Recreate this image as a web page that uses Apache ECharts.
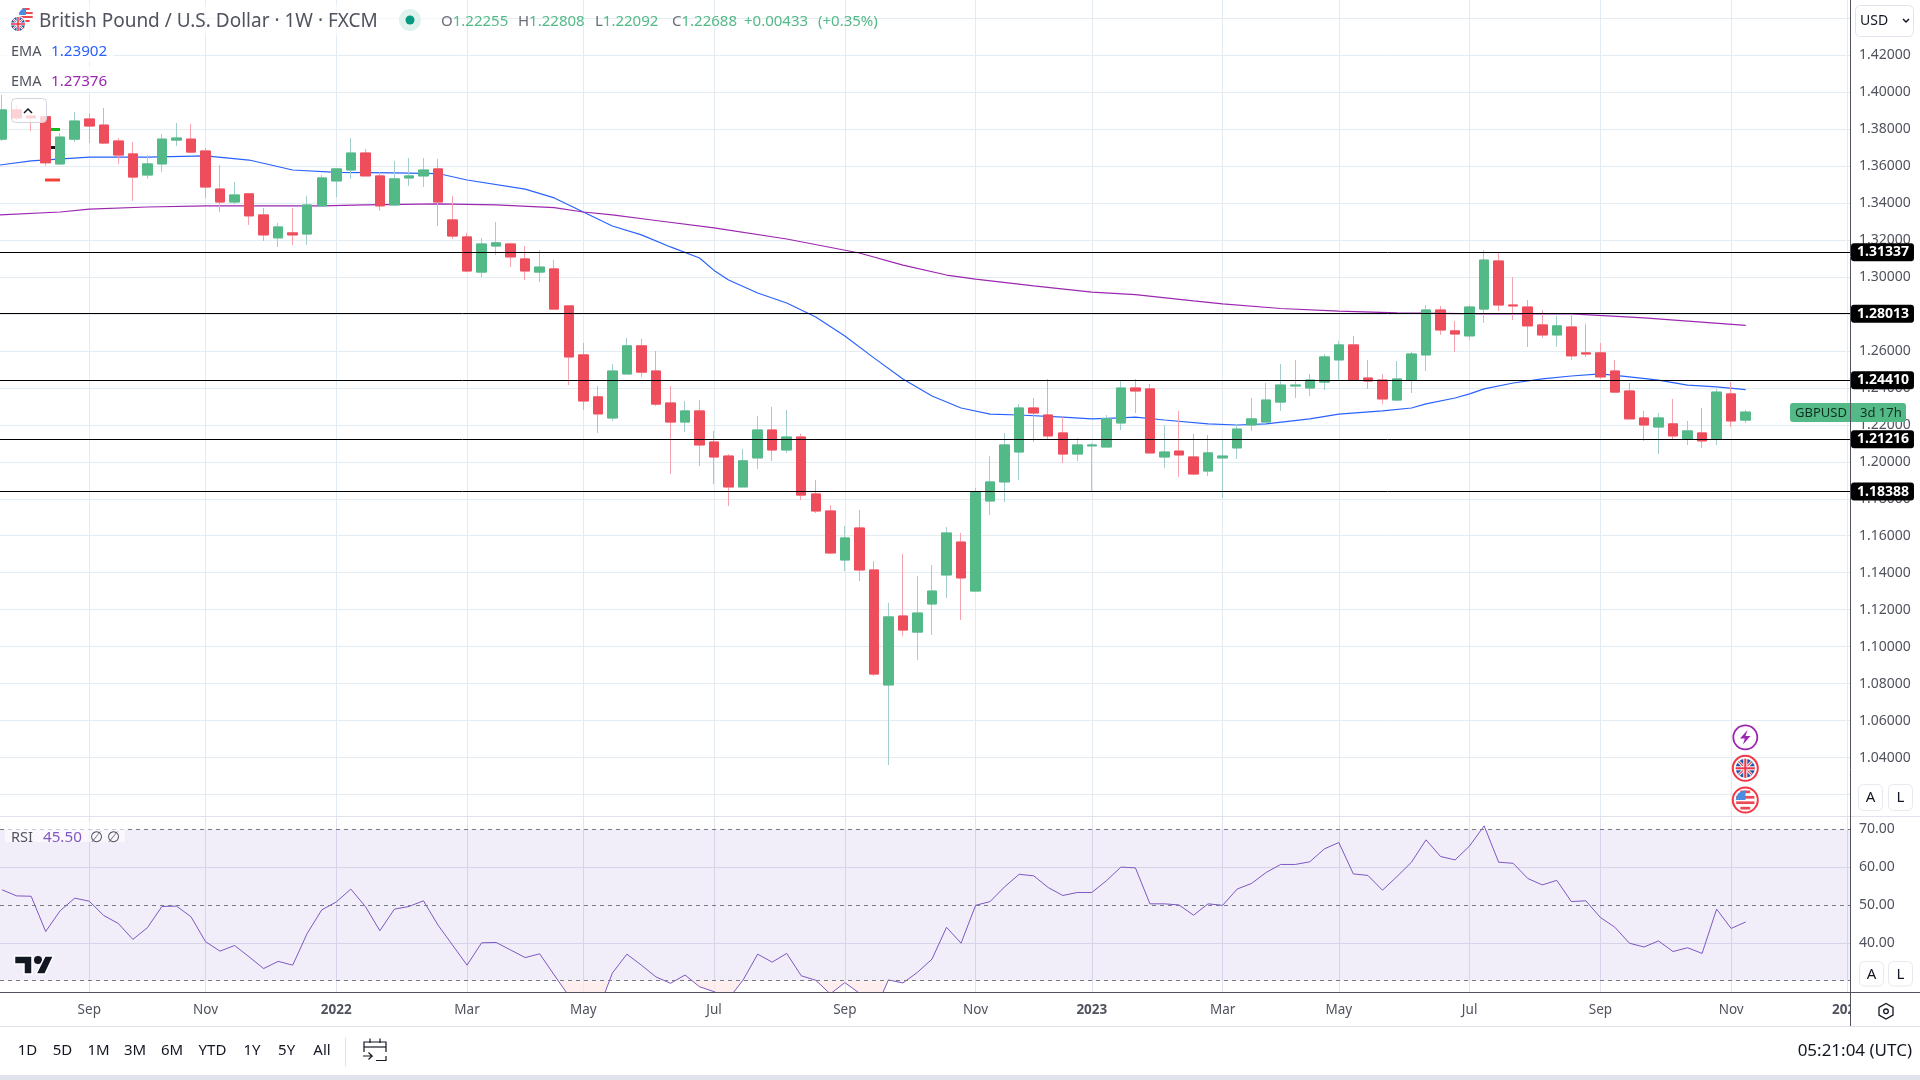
<!DOCTYPE html>
<html>
<head>
<meta charset="utf-8">
<title>GBPUSD weekly</title>
<style>html,body{margin:0;padding:0;background:#fff}#c{width:1920px;height:1080px}</style>
<script src="https://cdn.jsdelivr.net/npm/echarts@6/dist/echarts.min.js"></script>
</head>
<body>
<div id="c"></div>
<script>
const opens = [1.3745,1.3903,1.3870,1.3866,1.3611,1.3745,1.3854,1.3821,1.3735,1.3665,
1.3551,1.3611,1.3740,1.3745,1.3681,1.3475,1.3405,1.3449,1.3335,1.3211,
1.3238,1.3232,1.3384,1.3519,1.3578,1.3670,1.3546,1.3389,1.3535,1.3546,
1.3584,1.3308,1.3216,1.3026,1.3167,1.3178,1.3097,1.3026,1.3043,1.2843,
1.2578,1.2351,1.2237,1.2475,1.2627,1.2491,1.2318,1.2215,1.2275,1.2107,
1.2031,1.1864,1.2021,1.2172,1.2064,1.2134,1.1826,1.1734,1.1469,1.1642,
1.1415,1.0793,1.1166,1.1079,1.1231,1.1388,1.1566,1.1301,1.1788,1.1891,
1.2053,1.2291,1.2253,1.2156,1.2042,1.2086,1.2080,1.2210,1.2399,1.2394,
1.2026,1.2058,1.2026,1.1950,1.2021,1.2075,1.2199,1.2215,1.2323,1.2410,
1.2399,1.2431,1.2551,1.2632,1.2453,1.2442,1.2334,1.2442,1.2578,1.2821,
1.2708,1.2681,1.2826,1.3086,1.2848,1.2837,1.2740,1.2686,1.2729,1.2589,
1.2589,1.2491,1.2383,1.2237,1.2188,1.2205,1.2123,1.2156,1.2123,1.2367,
1.22255];
const closes = [1.3903,1.3860,1.3860,1.3617,1.3756,1.3843,1.3816,1.3724,1.3659,1.3540,
1.3611,1.3745,1.3751,1.3675,1.3486,1.3405,1.3443,1.3330,1.3227,1.3270,
1.3227,1.3389,1.3535,1.3584,1.3670,1.3546,1.3384,1.3530,1.3546,1.3578,
1.3405,1.3221,1.3032,1.3178,1.3184,1.3108,1.3032,1.3053,1.2826,1.2567,
1.2329,1.2259,1.2491,1.2627,1.2485,1.2312,1.2215,1.2275,1.2091,1.2026,
1.1864,1.2005,1.2172,1.2064,1.2134,1.1820,1.1734,1.1507,1.1588,1.1415,
1.0852,1.1161,1.1090,1.1182,1.1301,1.1615,1.1372,1.1836,1.1891,1.2091,
1.2291,1.2264,1.2140,1.2042,1.2091,1.2091,1.2232,1.2399,1.2383,1.2048,
1.2053,1.2037,1.1934,1.2048,1.2031,1.2177,1.2232,1.2334,1.2415,1.2415,
1.2442,1.2567,1.2632,1.2442,1.2437,1.2340,1.2448,1.2583,1.2821,1.2713,
1.2691,1.2837,1.3091,1.2848,1.2843,1.2735,1.2686,1.2735,1.2573,1.2583,
1.2459,1.2377,1.2232,1.2199,1.2237,1.2140,1.2167,1.2113,1.2377,1.2221,
1.22688];
const highs = [1.3984,1.3930,1.3886,1.3870,1.3778,1.3892,1.3886,1.3913,1.3751,1.3729,
1.3659,1.3772,1.3832,1.3827,1.3697,1.3605,1.3513,1.3449,1.3373,1.3292,
1.3373,1.3438,1.3551,1.3584,1.3751,1.3692,1.3567,1.3627,1.3643,1.3643,
1.3638,1.3438,1.3238,1.3211,1.3297,1.3184,1.3167,1.3145,1.3091,1.2843,
1.2643,1.2410,1.2529,1.2670,1.2665,1.2600,1.2410,1.2329,1.2334,1.2167,
1.2042,1.2069,1.2248,1.2297,1.2280,1.2151,1.1902,1.1766,1.1653,1.1739,
1.1463,1.1237,1.1501,1.1382,1.1442,1.1647,1.1615,1.1858,1.2031,1.2156,
1.2313,1.2345,1.2448,1.2242,1.2129,1.2102,1.2253,1.2437,1.2448,1.2421,
1.2199,1.2275,1.2151,1.2145,1.2118,1.2205,1.2345,1.2426,1.2529,1.2551,
1.2475,1.2583,1.2654,1.2681,1.2551,1.2475,1.2545,1.2594,1.2848,1.2843,
1.2762,1.2848,1.3145,1.3129,1.2999,1.2875,1.2821,1.2789,1.2800,1.2746,
1.2643,1.2551,1.2426,1.2275,1.2264,1.2340,1.2221,1.2291,1.2394,1.2432,
1.22808];
const lows = [1.3735,1.3849,1.3789,1.3601,1.3605,1.3729,1.3724,1.3719,1.3611,1.3411,
1.3530,1.3567,1.3708,1.3670,1.3427,1.3351,1.3394,1.3281,1.3194,1.3162,
1.3173,1.3173,1.3384,1.3432,1.3530,1.3546,1.3357,1.3384,1.3492,1.3486,
1.3275,1.3205,1.3026,1.2999,1.3118,1.3053,1.2983,1.2972,1.2826,1.2415,
1.2280,1.2156,1.2221,1.2475,1.2458,1.2302,1.1934,1.2161,1.1977,1.1880,
1.1761,1.1864,1.1961,1.2005,1.2048,1.1793,1.1723,1.1501,1.1409,1.1355,
1.0841,1.0360,1.1057,1.0928,1.1063,1.1264,1.1144,1.1296,1.1712,1.1782,
1.1902,1.2107,1.2123,1.1993,1.2004,1.1842,1.2080,1.2172,1.2264,1.2048,
1.1966,1.1918,1.1929,1.1923,1.1804,1.2015,1.2167,1.2215,1.2275,1.2345,
1.2356,1.2388,1.2437,1.2442,1.2394,1.2312,1.2329,1.2372,1.2491,1.2686,
1.2594,1.2659,1.2751,1.2815,1.2767,1.2621,1.2670,1.2621,1.2551,1.2567,
1.2448,1.2377,1.2232,1.2113,1.2042,1.2123,1.2091,1.2075,1.2091,1.2188,
1.22092];
const ema1Bars = [-0.15,2,6,10,14,17,20,23,27,30,32,36,38,40,42,44,46,48,49,50,52,54,56,58,60,62,64,66,68,70,73,75,77,78,80,83,85,87,90,92,95,97,98,100,101,102,104,106,108,110,112,114,116,118,120];
const ema1Values = [1.3605,1.3627,1.3648,1.3648,1.3654,1.3632,1.3578,1.3565,1.3562,1.3559,1.3524,1.3475,1.3427,1.3351,1.3275,1.3227,1.3162,1.3102,1.3035,1.2983,1.2913,1.2859,1.2783,1.2680,1.2562,1.2448,1.2356,1.2291,1.2258,1.2253,1.2242,1.2232,1.2237,1.2242,1.2226,1.2205,1.2199,1.2205,1.2232,1.2258,1.2275,1.2291,1.2313,1.2345,1.2367,1.2394,1.2426,1.2448,1.2464,1.2475,1.2459,1.2442,1.2415,1.2405,1.23902];
const ema2Bars = [-0.15,4,6,10,14,18,22,25,30,34,38,40,42,45,49,54,59,62,65,67,71,75,78,82,84,88,92,96,102,108,113,120];
const ema2Values = [1.3335,1.3351,1.3367,1.3378,1.3384,1.3384,1.3384,1.3389,1.3395,1.3389,1.3375,1.3351,1.3335,1.3305,1.3265,1.3205,1.3129,1.3064,1.3010,1.2988,1.2951,1.2918,1.2904,1.2870,1.2854,1.2829,1.2815,1.2805,1.2800,1.2800,1.2778,1.27376];
const rsiValues = [54.0,52.4,52.3,43.0,48.5,51.8,51.0,47.2,45.1,40.9,
44.0,49.6,49.7,46.9,40.3,37.8,39.3,36.3,33.2,35.1,
34.1,42.5,48.7,50.8,54.2,49.6,43.2,48.9,49.6,51.1,
44.7,39.4,34.1,40.0,40.1,38.1,36.1,37.1,31.5,26.0,
23.1,21.9,32.0,37.0,34.1,31.0,29.3,31.5,28.4,27.1,
25.2,30.2,37.0,34.9,37.2,31.3,30.1,26.5,29.5,26.7,
21.4,30.2,29.4,32.2,35.7,44.1,39.9,49.9,50.9,54.8,
58.1,57.7,54.6,52.5,53.3,53.3,56.4,60.0,59.8,50.3,
50.3,50.0,47.3,50.3,49.9,54.2,55.7,58.6,60.7,60.7,
61.4,64.8,66.5,58.2,57.8,53.9,57.5,61.3,67.2,62.8,
61.9,65.6,70.9,61.3,61.0,57.0,55.3,56.5,50.9,51.1,
46.7,44.1,39.9,38.9,40.5,37.7,38.7,37.2,48.9,43.8,
45.5];
const levels = [1.31337,1.28013,1.24410,1.21216,1.18388];
const priceTicks = [1.02,1.04,1.06,1.08,1.10,1.12,1.14,1.16,1.18,1.20,1.22,1.24,1.26,1.28,1.30,1.32,1.34,1.36,1.38,1.40,1.42,1.44];
const priceLabels = [1.04,1.06,1.08,1.10,1.12,1.14,1.16,1.18,1.20,1.22,1.24,1.26,1.28,1.30,1.32,1.34,1.36,1.38,1.40,1.42];
const rsiTicks = [40,60];
const rsiLabels = [40,50,60,70];
const rsiLevels = [30,50,70];
const timeBars = [6,14,23,32,40,49,58,67,75,84,92,101,110,119,127];
const timeLabels = ['Sep','Nov','2022','Mar','May','Jul','Sep','Nov','2023','Mar','May','Jul','Sep','Nov','2024'];
const rangeButtons = ['1D','5D','1M','3M','6M','YTD','1Y','5Y','All'];

const FONT = '"Noto Sans", sans-serif';
const UP='#53B987', DOWN='#EE4D5C', UPW='#A3CECE', DOWNW='#F6A3AE';
const GRID='#E3ECF2', TXT='#50535E';
const barIdx = opens.map((_, i) => i);
const xMin=-0.1445, xMax=127.18;

const full = barIdx.map(i => [i, opens[i], closes[i], lows[i], highs[i]]);
const bodies = barIdx.map(i => [i, opens[i], closes[i], Math.min(opens[i],closes[i]), Math.max(opens[i],closes[i])]);
const rsiPts = barIdx.map(i => [i, rsiValues[i]]);

const g = [];
const add = o => { o.z = o.z || 100; o.silent = true; g.push(o); };
const rect = (x,y,w,h,fill,extra) => add({type:'rect',shape:{x,y,width:w,height:h,r:(extra&&extra.r)||0},style:Object.assign({fill},extra&&extra.style||{}),z:extra&&extra.z});
const line = (x1,y1,x2,y2,stroke,lw,z) => add({type:'line',shape:{x1,y1,x2,y2},style:{stroke,lineWidth:lw||1},z});
const text = (t,x,y,font,fill,opt) => add({type:'text',style:Object.assign({text:t,x,y,font:font+' '+FONT,fill,textVerticalAlign:'middle',textAlign:'left'},opt||{}),z:(opt&&opt.zz)||101});
const chord = (cx,cy,r,dy) => Math.sqrt(Math.max(0,r*r-dy*dy));
function flagUK(cx,cy,r,z){
  add({type:'circle',shape:{cx,cy,r},style:{fill:'#2457A6'},z});
  const d=r*0.7;
  line(cx-d,cy-d,cx+d,cy+d,'#fff',r*0.3,z); line(cx-d,cy+d,cx+d,cy-d,'#fff',r*0.3,z);
  line(cx-d,cy-d,cx+d,cy+d,'#E8394A',r*0.12,z); line(cx-d,cy+d,cx+d,cy-d,'#E8394A',r*0.12,z);
  line(cx-r,cy,cx+r,cy,'#fff',r*0.42,z); line(cx,cy-r,cx,cy+r,'#fff',r*0.42,z);
  line(cx-r,cy,cx+r,cy,'#E8394A',r*0.22,z); line(cx,cy-r,cx,cy+r,'#E8394A',r*0.22,z);
}
function flagUS(cx,cy,r,z){
  add({type:'circle',shape:{cx,cy,r},style:{fill:'#fff',stroke:'#eee',lineWidth:0.5},z});
  const n=7;
  for(let k=0;k<n;k+=2){ const dy=-r+ (k+0.5)*(2*r/n); const w=chord(cx,cy,r,dy); line(cx-w,cy+dy,cx+w,cy+dy,'#EB4A55',2*r/n,z); }
  add({type:'sector',shape:{cx,cy,r0:0,r,startAngle:Math.PI,endAngle:Math.PI*1.5},style:{fill:'#4A8CE0'},z:z+1});
  rect(cx-r*0.72,cy-r*0.72,r*0.72,r*0.72,'#4A8CE0',{z:z+1});
}
// pane chrome
rect(0,1075,1920,5,'#E0E3EB');
line(0,816.5,1920,816.5,'#E0E3EB',1,90);
line(0,1026.5,1920,1026.5,'#E0E3EB',1,90);
rect(1851,993,69,33,'#fff',{z:95});
line(1850.5,0,1850.5,1026,'#50535E',1,96);
line(0,992.5,1920,992.5,'#50535E',1,96);

// header
rect(0,5,445,30,'rgba(255,255,255,0.6)',{z:80});
flagUS(26,15,7,100); 
add({type:'circle',shape:{cx:18,cy:24,r:8},style:{fill:'#fff'},z:101});
flagUK(18,24,7,102);
text('British Pound / U.S. Dollar · 1W · FXCM',39,22,'19px','#50535E');
add({type:'circle',shape:{cx:410,cy:20,r:11},style:{fill:'#DFF2EE'}});
add({type:'circle',shape:{cx:410,cy:20,r:4.5},style:{fill:'#089981'},z:101});
[['O','1.22255',441],['H','1.22808',518],['L','1.22092',595],['C','1.22688',672]].forEach(a=>{
  add({type:'text',style:{text:'{l|'+a[0]+'}{v|'+a[1]+'}',x:a[2],y:21.5,font:'15px '+FONT,textVerticalAlign:'middle',
    rich:{l:{fill:'#6A6D78',font:'15px '+FONT},v:{fill:UP,font:'15px '+FONT}}},z:101});
});
text('+0.00433',744,21.5,'15px',UP);
text('(+0.35%)',818,21.5,'15px',UP);
rect(0,36,114,26,'rgba(255,255,255,0.75)',{z:80});
rect(0,66,114,26,'rgba(255,255,255,0.75)',{z:80});
text('EMA',11,52,'14.5px','#50535E');
text('1.23902',51,52,'15.2px','#2962FF');
text('EMA',11,81.5,'14.5px','#50535E');
text('1.27376',51,81.5,'15.2px','#9C27B0');
// collapse button
rect(11.5,98.5,35,24,'rgba(255,255,255,0.75)',{r:4,style:{stroke:'#D1D4DC',lineWidth:1},z:90});
add({type:'polyline',shape:{points:[[24,113],[28,109],[32,113]]},style:{stroke:'#131722',lineWidth:1.5,fill:'none'},z:91});
// stray markers
rect(51,128,9,3,'#16B81F',{z:70});
rect(51,146,4,3,'#131722',{z:70});
rect(45,178.5,15,3,'#F44336',{z:70});
// currency selector
rect(1855.5,5.5,58,31,'#fff',{r:5,style:{stroke:'#E0E3EB',lineWidth:1},z:99});
text('USD',1860,21,'14px','#131722');
add({type:'polyline',shape:{points:[[1903,19],[1906,22],[1909,19]]},style:{stroke:'#131722',lineWidth:1.5,fill:'none'},z:101});
// last-price tag
rect(1790,403,60,19,UP,{r:[3,0,0,3]});
rect(1851,403,55,19,UP,{r:[0,3,3,0]});
text('GBPUSD',1795,413,'13px','#10301F');
text('3d 17h',1860,413,'13px','#10301F');
// event icons
add({type:'circle',shape:{cx:1745.3,cy:737.3,r:12},style:{fill:'#fff',stroke:'#9C27B0',lineWidth:1.8}});
add({type:'polygon',shape:{points:[[1747.5,730],[1740,738.5],[1744.8,738.5],[1743,744.5],[1750.5,736],[1745.5,736]]},style:{fill:'#9C27B0'},z:101});
add({type:'circle',shape:{cx:1745.3,cy:768.3,r:12.5},style:{fill:'#fff',stroke:'#F23645',lineWidth:2}});
flagUK(1745.3,768.3,9.5,101);
add({type:'circle',shape:{cx:1745.3,cy:800,r:12.5},style:{fill:'#fff',stroke:'#F23645',lineWidth:2}});
flagUS(1745.3,800,9.5,101);
// scale buttons
[[1858.5,784.5],[1888.5,784.5],[1859.5,961.5],[1888.5,961.5]].forEach((p,i)=>{
  rect(p[0],p[1],24,i<2?26:24.5,'#fff',{r:5,style:{stroke:'#E6E9F0',lineWidth:1},z:99});
  text(i%2?'L':'A',p[0]+12,p[1]+13,'15px','#131722',{textAlign:'center'});
});
// logo
add({type:'polygon',shape:{points:[[14.5,956],[32,956],[32,974],[24,974],[24,964],[14.5,964]]},style:{fill:'#131722',stroke:'#fff',lineWidth:1.5},z:101});
add({type:'circle',shape:{cx:38,cy:960,r:4},style:{fill:'#131722'},z:101});
add({type:'polygon',shape:{points:[[45,956],[53.5,956],[45,974],[36,974]]},style:{fill:'#131722',stroke:'#fff',lineWidth:1.5},z:101});
// settings gear
add({type:'polygon',shape:{points:[[1886,1003.5],[1893,1007.5],[1893,1015],[1886,1019],[1879,1015],[1879,1007.5]]},style:{fill:'none',stroke:'#131722',lineWidth:1.3},z:101});
add({type:'circle',shape:{cx:1886,cy:1011.3,r:2.3},style:{fill:'none',stroke:'#131722',lineWidth:1.3},z:101});
// bottom bar
const rangeX=[27.5,62.5,98.6,135,172,212.5,252,286.6,322];
rangeButtons.forEach((t,i)=>text(t,rangeX[i],1051,'15px','#131722',{textAlign:'center'}));
line(345.5,1038,345.5,1066,'#E0E3EB',1);
add({type:'polyline',shape:{points:[[386,1056],[386,1060.5],[376,1060.5]]},style:{stroke:'#131722',lineWidth:1.2,fill:'none'},z:101});
add({type:'polyline',shape:{points:[[364,1052],[364,1042],[386,1042],[386,1052]]},style:{stroke:'#131722',lineWidth:1.2,fill:'none'},z:101});
line(364,1047,386,1047,'#131722',1.2,101);
line(370,1038.5,370,1043,'#131722',1.2,101);
line(380,1038.5,380,1043,'#131722',1.2,101);
add({type:'polyline',shape:{points:[[363,1056],[372,1056],[368.5,1052.5]]},style:{stroke:'#131722',lineWidth:1.2,fill:'none'},z:101});
add({type:'polyline',shape:{points:[[372,1056],[368.5,1059.5]]},style:{stroke:'#131722',lineWidth:1.2,fill:'none'},z:101});
text('05:21:04 (UTC)',1912,1051,'17px','#131722',{textAlign:'right'});

const xBase = {type:'value',min:xMin,max:xMax,axisPointer:{show:false}};
const option = {
  animation:false,
  backgroundColor:'#fff',
  tooltip:{show:false},
  grid:[
    {left:0,top:0,width:1850,height:816},
    {left:0,top:816,width:1850,height:176.3},
    {left:0,top:980.7,width:1850,height:11.6}
  ],
  xAxis:[
    Object.assign({},xBase,{gridIndex:0,axisLine:{show:false},axisTick:{show:false,customValues:timeBars},axisLabel:{show:false},
      splitLine:{show:true,lineStyle:{color:GRID,width:1}}}),
    Object.assign({},xBase,{gridIndex:1,axisLine:{show:false},axisTick:{show:false,customValues:timeBars},
      axisLabel:{show:true,customValues:timeBars,margin:11,hideOverlap:false,fontFamily:'"Noto Sans", sans-serif',fontSize:13.5,color:TXT,
        formatter:v=>{const t=timeLabels[timeBars.indexOf(v)]||'';return /^20/.test(t)?'{y|'+t+'}':t;},
        rich:{y:{fontWeight:'bold',fontSize:13.5,color:TXT,fontFamily:'"Noto Sans", sans-serif'}}},
      splitLine:{show:true,lineStyle:{color:'#DFE3EE',width:1}}}),
    Object.assign({},xBase,{gridIndex:2,show:false})
  ],
  yAxis:[
    {type:'value',gridIndex:0,position:'right',min:1.00843,max:1.44975,axisLine:{show:false},
      axisTick:{show:false,customValues:priceTicks},
      axisLabel:{show:true,customValues:priceLabels,margin:9,fontFamily:'"Noto Sans", sans-serif',fontSize:14,color:TXT,formatter:v=>v.toFixed(5)},
      splitLine:{show:true,lineStyle:{color:GRID,width:1}}},
    {type:'value',gridIndex:1,position:'right',min:26.93,max:73.5,axisLine:{show:false},
      axisTick:{show:false,customValues:rsiTicks},
      axisLabel:{show:true,customValues:rsiLabels,margin:9,fontFamily:'"Noto Sans", sans-serif',fontSize:14,color:TXT,formatter:v=>v.toFixed(2)},
      splitLine:{show:true,lineStyle:{color:'#DFE3EE',width:1}}},
    {type:'value',gridIndex:2,min:26.93,max:30,show:false}
  ],
  series:[
    {name:'levels',type:'line',xAxisIndex:0,yAxisIndex:0,data:[],z:1,showSymbol:false,
      markLine:{silent:true,symbol:'none',animation:false,precision:5,lineStyle:{color:'#000',width:1,type:'solid'},
        label:{show:true,position:'end',distance:1,formatter:p=>p.value.toFixed(5),color:'#fff',backgroundColor:'#000',
          fontFamily:'"Noto Sans", sans-serif',fontWeight:'bold',fontSize:14,padding:[2,5,2,6],borderRadius:3},
        data:levels.map(v=>({yAxis:v}))}},
    {name:'EMA 1',type:'line',xAxisIndex:0,yAxisIndex:0,z:1,showSymbol:false,
      lineStyle:{color:'#2962FF',width:1.2},data:ema1Bars.map((b,i)=>[b,ema1Values[i]])},
    {name:'EMA 2',type:'line',xAxisIndex:0,yAxisIndex:0,z:1,showSymbol:false,
      lineStyle:{color:'#9C27B0',width:1.2},data:ema2Bars.map((b,i)=>[b,ema2Values[i]])},
    {name:'GBPUSD wicks',type:'candlestick',xAxisIndex:0,yAxisIndex:0,z:2,barWidth:10,
      itemStyle:{color:UP,color0:DOWN,borderColor:UPW,borderColor0:DOWNW,borderWidth:1},data:full},
    {name:'GBPUSD',type:'candlestick',xAxisIndex:0,yAxisIndex:0,z:3,barWidth:10,
      itemStyle:{color:UP,color0:DOWN,borderColor:UP,borderColor0:DOWN,borderWidth:1},data:bodies},
    {name:'RSI',type:'line',xAxisIndex:1,yAxisIndex:1,z:3,showSymbol:false,
      lineStyle:{color:'#7E57C2',width:1},data:rsiPts,
      markArea:{silent:true,itemStyle:{color:'rgba(126,87,194,0.1)'},data:[[{yAxis:30},{yAxis:70}]]},
      markLine:{silent:true,symbol:'none',animation:false,label:{show:false},
        lineStyle:{color:'#787B86',width:1,type:[4,4]},data:rsiLevels.map(v=>({yAxis:v}))}},
    {name:'RSI oversold',type:'line',xAxisIndex:2,yAxisIndex:2,z:2,showSymbol:false,
      lineStyle:{opacity:0,width:0},data:rsiPts,
      areaStyle:{origin:'end',opacity:1,color:{type:'linear',x:0,y:0,x2:0,y2:1,colorStops:[{offset:0,color:'rgba(255,240,240,0.1)'},{offset:1,color:'rgba(255,228,228,0.75)'}]}}}
  ],
  graphic:{elements:g}
};
// RSI legend chip is part of the pane
g.push({type:'rect',shape:{x:5,y:822,width:120,height:20},style:{fill:'rgba(255,255,255,0.6)'},z:80,silent:true});
g.push({type:'text',style:{text:'RSI',x:11,y:838,font:'14.5px '+FONT,fill:'#50535E',textVerticalAlign:'middle'},z:101,silent:true});
g.push({type:'text',style:{text:'45.50',x:43,y:838,font:'15.2px '+FONT,fill:'#7E57C2',textVerticalAlign:'middle'},z:101,silent:true});
g.push({type:'text',style:{text:'∅ ∅',x:90,y:838,font:'14.5px '+FONT,fill:'#50535E',textVerticalAlign:'middle'},z:101,silent:true});
const chart = echarts.init(document.getElementById('c'));
chart.setOption(option);
</script>
</body>
</html>
